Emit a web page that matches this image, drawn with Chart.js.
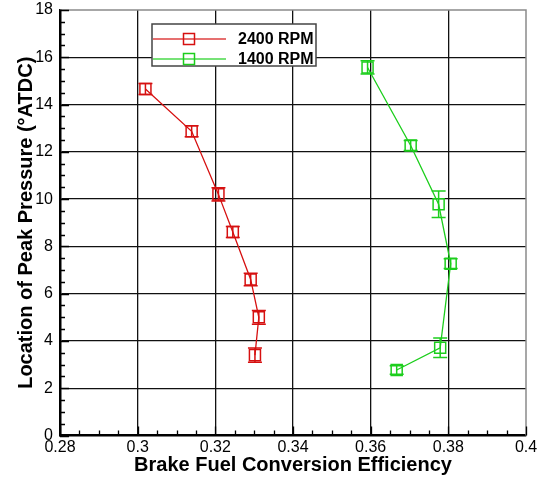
<!DOCTYPE html>
<html>
<head>
<meta charset="utf-8">
<script src="https://cdn.jsdelivr.net/npm/chart.js@4/dist/chart.umd.min.js"></script>
<style>
  html, body { margin: 0; padding: 0; background: #fff; }
  #wrap { width: 537px; height: 477px; }
</style>
</head>
<body>
<div id="wrap"><canvas id="c" width="537" height="477"></canvas></div>
<script>
// Brake fuel conversion efficiency vs. location of peak pressure
const seriesLabels = ['2400 RPM', '1400 RPM'];
const efficiency2400 = [0.3020, 0.3139, 0.3208, 0.3245, 0.3291, 0.3312, 0.3302];
const peakLoc2400    = [14.66, 12.87, 10.20, 8.61, 6.60, 5.00, 3.40];
const peakErr2400    = [0.23, 0.23, 0.28, 0.23, 0.26, 0.29, 0.30];
const efficiency1400 = [0.3592, 0.3703, 0.3775, 0.3806, 0.3779, 0.3667];
const peakLoc1400    = [15.57, 12.27, 9.78, 7.27, 3.71, 2.77];
const peakErr1400    = [0.28, 0.21, 0.56, 0.21, 0.41, 0.18];
const xTicks = [0.28, 0.30, 0.32, 0.34, 0.36, 0.38, 0.40];
const yTicks = [0, 2, 4, 6, 8, 10, 12, 14, 16, 18];

const RED = 'rgb(214,16,16)';
const GREEN = 'rgb(28,206,28)';

function points(xs, ys, es) {
  return xs.map((x, i) => ({ x: x, y: ys[i], err: es[i] }));
}

// vertical error bars with caps
const errorBars = {
  id: 'errorBars',
  afterDatasetsDraw(chart) {
    const { ctx, scales: { x, y } } = chart;
    ctx.save();
    chart.data.datasets.forEach(ds => {
      ctx.strokeStyle = ds.borderColor;
      ctx.lineWidth = 1.5;
      ds.data.forEach(p => {
        const px = x.getPixelForValue(p.x);
        const t = y.getPixelForValue(p.y + p.err);
        const b = y.getPixelForValue(p.y - p.err);
        ctx.beginPath();
        ctx.moveTo(px, t); ctx.lineTo(px, b);
        ctx.moveTo(px - 7, t); ctx.lineTo(px + 7, t);
        ctx.moveTo(px - 7, b); ctx.lineTo(px + 7, b);
        ctx.stroke();
      });
    });
    ctx.restore();
  }
};

// frame, inward major / minor ticks
const axisFrame = {
  id: 'axisFrame',
  beforeDatasetsDraw(chart) {
    const { ctx, chartArea: a, scales: { x, y } } = chart;
    ctx.save();
    ctx.strokeStyle = '#8a8a8a';
    ctx.lineWidth = 1.5;
    ctx.beginPath();
    ctx.moveTo(a.left, a.top); ctx.lineTo(a.right, a.top); ctx.lineTo(a.right, a.bottom);
    ctx.stroke();
    ctx.strokeStyle = '#000';
    ctx.lineWidth = 1.3;
    ctx.beginPath();
    for (let v = 0.28; v <= 0.4 + 1e-9; v += 0.005) {
      const px = Math.round(x.getPixelForValue(v)) + 0.5;
      const major = Math.abs(v / 0.02 - Math.round(v / 0.02)) < 1e-6;
      ctx.moveTo(px, a.bottom); ctx.lineTo(px, a.bottom - (major ? 9 : 5));
    }
    for (let v = 0; v <= 18 + 1e-9; v += 0.5) {
      const py = Math.round(y.getPixelForValue(v)) + 0.5;
      const major = Math.abs(v / 2 - Math.round(v / 2)) < 1e-6;
      ctx.moveTo(a.left, py); ctx.lineTo(a.left + (major ? 9 : 5), py);
    }
    ctx.stroke();
    ctx.restore();
  }
};

// boxed legend inside the plot
const boxLegend = {
  id: 'boxLegend',
  afterDraw(chart) {
    const { ctx } = chart;
    const bx = 152, by = 24, bw = 164, bh = 42;
    ctx.save();
    ctx.fillStyle = '#fff';
    ctx.fillRect(bx, by, bw, bh);
    ctx.strokeStyle = '#444';
    ctx.lineWidth = 1.5;
    ctx.strokeRect(bx, by, bw, bh);
    chart.data.datasets.forEach((ds, i) => {
      const ry = 39 + i * 20;
      ctx.globalAlpha = 0.6;
      ctx.strokeStyle = ds.borderColor;
      ctx.lineWidth = 2;
      ctx.beginPath(); ctx.moveTo(bx + 1, ry); ctx.lineTo(226, ry); ctx.stroke();
      ctx.globalAlpha = 1;
      ctx.lineWidth = 1.5;
      ctx.strokeRect(183.5, ry - 5.5, 11, 11);
      ctx.fillStyle = '#000';
      ctx.font = 'bold 16px "Liberation Sans", Arial, sans-serif';
      ctx.textAlign = 'left';
      ctx.textBaseline = 'middle';
      ctx.fillText(ds.label, 238, ry + 1);
    });
    ctx.restore();
  }
};

const tickFont = { family: '"Liberation Sans", Arial, sans-serif', size: 16 };
const titleFont = { family: '"Liberation Sans", Arial, sans-serif', size: 20, weight: 'bold' };

new Chart(document.getElementById('c'), {
  type: 'scatter',
  data: {
    datasets: [
      {
        label: seriesLabels[0],
        data: points(efficiency2400, peakLoc2400, peakErr2400),
        showLine: true,
        borderColor: RED,
        borderWidth: 1.3,
        pointStyle: 'rect',
        pointRadius: 7.8,
        pointBorderWidth: 1.5,
        pointBackgroundColor: 'rgba(0,0,0,0)',
        pointBorderColor: RED
      },
      {
        label: seriesLabels[1],
        data: points(efficiency1400, peakLoc1400, peakErr1400),
        showLine: true,
        borderColor: GREEN,
        borderWidth: 1.3,
        pointStyle: 'rect',
        pointRadius: 7.8,
        pointBorderWidth: 1.5,
        pointBackgroundColor: 'rgba(0,0,0,0)',
        pointBorderColor: GREEN
      }
    ]
  },
  options: {
    responsive: false,
    animation: false,
    devicePixelRatio: 1,
    layout: { padding: { top: 10, right: 11, left: 0, bottom: 0 } },
    plugins: { legend: { display: false }, tooltip: { enabled: false } },
    scales: {
      x: {
        type: 'linear',
        min: xTicks[0],
        max: xTicks[xTicks.length - 1],
        afterBuildTicks(s) { s.ticks = xTicks.map(v => ({ value: v })); },
        afterFit(s) { s.height = 41.5; s.paddingLeft = 0; s.paddingRight = 0; },
        ticks: {
          font: tickFont, color: '#000', padding: 2, maxRotation: 0, autoSkip: false,
          callback: v => String(+Number(v).toFixed(2))
        },
        grid: {
          drawTicks: false,
          color: c => (c.tick && (c.tick.value <= 0.2801 || c.tick.value >= 0.3999)) ? 'rgba(0,0,0,0)' : '#111',
          lineWidth: 1.3
        },
        border: { display: true, color: '#000', width: 2.5 },
        title: { display: true, text: 'Brake Fuel Conversion Efficiency', font: titleFont, color: '#000', padding: { top: 0, bottom: 0 } }
      },
      y: {
        type: 'linear',
        min: yTicks[0],
        max: yTicks[yTicks.length - 1],
        afterBuildTicks(s) { s.ticks = yTicks.map(v => ({ value: v })); },
        afterFit(s) { s.width = 60; s.paddingTop = 0; s.paddingBottom = 0; },
        ticks: { font: tickFont, color: '#000', padding: 7, autoSkip: false },
        grid: {
          drawTicks: false,
          color: c => (c.tick && (c.tick.value <= 0 || c.tick.value >= 18)) ? 'rgba(0,0,0,0)' : '#111',
          lineWidth: 1.3
        },
        border: { display: true, color: '#000', width: 2.5 },
        title: { display: true, text: 'Location of Peak Pressure (°ATDC)', font: titleFont, color: '#000', padding: { top: 14, bottom: 0 } }
      }
    }
  },
  plugins: [axisFrame, errorBars, boxLegend]
});
</script>
</body>
</html>
